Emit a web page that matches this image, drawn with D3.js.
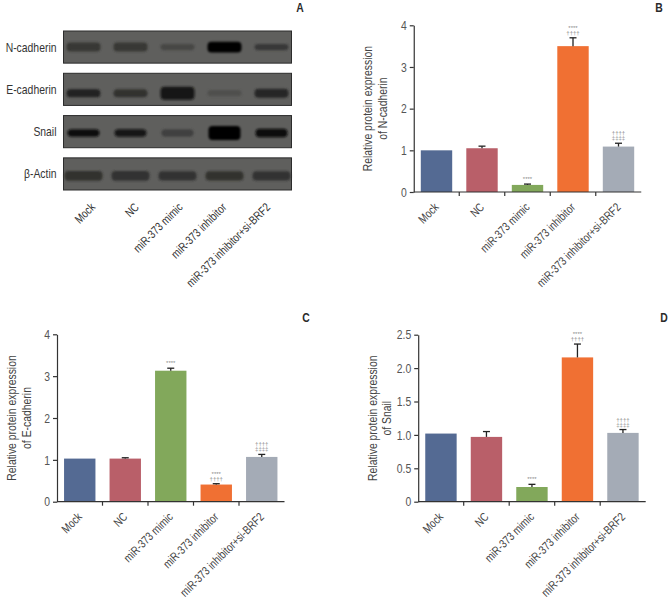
<!DOCTYPE html>
<html>
<head>
<meta charset="utf-8">
<script src="https://cdn.jsdelivr.net/npm/d3@7"></script>
<style>
  html, body { margin: 0; padding: 0; background: #fff; }
  text { font-family: "Liberation Sans", sans-serif; }
</style>
</head>
<body>
<svg id="chart" width="670" height="598"></svg>
<script>
const groups = ["Mock", "NC", "miR-373 mimic", "miR-373 inhibitor", "miR-373 inhibitor+si-BRF2"];
const barColors = ["#546a93", "#b95f69", "#82a85b", "#f07033", "#a4abb6"];

const nCadherin = [1.0, 1.05, 0.17, 3.5, 1.09];
const nCadherinErr = [0, 0.05, 0.02, 0.2, 0.08];
const eCadherin = [1.03, 1.03, 3.13, 0.41, 1.07];
const eCadherinErr = [0, 0.02, 0.06, 0.02, 0.06];
const snail = [1.02, 0.97, 0.22, 2.16, 1.03];
const snailErr = [0, 0.08, 0.04, 0.2, 0.05];

const sigMarks = [[], [], ["****"], ["****", "††††"], ["††††", "‡‡‡‡"]];
const eSigMarks = [[], [], ["****"], ["****", "††††"], ["††††", "‡‡‡‡"]];

// blot rows: band darkness and thickness per lane, 0-1
const blotRows = ["N-cadherin", "E-cadherin", "Snail", "β-Actin"];
const blotDark = [
  [0.42, 0.42, 0.25, 1.0, 0.4],
  [0.65, 0.5, 0.8, 0.15, 0.6],
  [0.85, 0.8, 0.3, 0.98, 0.85],
  [0.5, 0.48, 0.48, 0.5, 0.48]
];
const blotThick = [
  [0.55, 0.55, 0.3, 0.7, 0.3],
  [0.45, 0.45, 0.9, 0.3, 0.55],
  [0.4, 0.4, 0.4, 1.0, 0.5],
  [0.6, 0.6, 0.55, 0.55, 0.55]
];
const blotLaneWidth = [34, 34, 32, 38];
const blotBandCenter = [0.5, 0.62, 0.54, 0.56];

const textSqueeze = 0.8;

const svg = d3.select("#chart");
const defs = svg.append("defs");
defs.append("filter").attr("id", "soft")
  .attr("x", "-30%").attr("y", "-80%").attr("width", "160%").attr("height", "260%")
  .append("feGaussianBlur").attr("stdDeviation", 1.1);

function drawBars(cfg) {
  const x = d3.scaleBand().domain(groups).range([cfg.left, cfg.left + 227.5]).paddingInner(0.31).paddingOuter(0.155);
  const y = d3.scaleLinear().domain([0, cfg.max]).range([cfg.bottom, cfg.top]);
  const g = svg.append("g");

  g.selectAll("rect.bar").data(groups).enter().append("rect")
    .attr("class", "bar")
    .attr("x", d => x(d))
    .attr("y", (d, i) => y(cfg.values[i]))
    .attr("width", x.bandwidth())
    .attr("height", (d, i) => cfg.bottom - y(cfg.values[i]))
    .attr("fill", (d, i) => barColors[i]);

  // error bars
  const withErr = groups.map((d, i) => ({ d, v: cfg.values[i], e: cfg.errors[i] })).filter(o => o.e > 0);
  g.selectAll("line.err").data(withErr).enter().append("line")
    .attr("class", "err")
    .attr("x1", o => x(o.d) + x.bandwidth() / 2)
    .attr("x2", o => x(o.d) + x.bandwidth() / 2)
    .attr("y1", o => y(o.v))
    .attr("y2", o => y(o.v + o.e))
    .attr("stroke", "#222").attr("stroke-width", 1.3);
  g.selectAll("line.cap").data(withErr).enter().append("line")
    .attr("class", "cap")
    .attr("x1", o => x(o.d) + x.bandwidth() / 2 - 3.5)
    .attr("x2", o => x(o.d) + x.bandwidth() / 2 + 3.5)
    .attr("y1", o => y(o.v + o.e))
    .attr("y2", o => y(o.v + o.e))
    .attr("stroke", "#222").attr("stroke-width", 1.3);

  // significance marks above the caps
  groups.forEach((d, i) => {
    const marks = cfg.marks[i];
    const top = y(cfg.values[i] + cfg.errors[i]);
    marks.forEach((m, j) => {
      g.append("text")
        .attr("x", x(d) + x.bandwidth() / 2)
        .attr("y", top - 3 - (marks.length - 1 - j) * 5)
        .attr("text-anchor", "middle")
        .attr("font-size", 6)
        .attr("fill", "#8a8a8a")
        .text(m);
    });
  });

  // x axis: ticks sit between the bars
  const xAxisG = g.append("g").attr("transform", `translate(0,${cfg.bottom})`);
  xAxisG.append("line").attr("x1", cfg.left).attr("x2", cfg.left + 227.5).attr("stroke", "#333").attr("stroke-width", 1.2);
  xAxisG.selectAll("line.tick").data(groups.slice(1)).enter().append("line")
    .attr("class", "tick")
    .attr("x1", d => x(d) - x.step() * 0.155).attr("x2", d => x(d) - x.step() * 0.155)
    .attr("y1", 0).attr("y2", 4).attr("stroke", "#333").attr("stroke-width", 1.2);
  xAxisG.selectAll("text").data(groups).enter().append("text")
    .attr("transform", d => `translate(${x(d) + x.bandwidth() / 2},13) rotate(-45) scale(${textSqueeze},1)`)
    .attr("text-anchor", "end")
    .attr("dy", "0.35em")
    .attr("font-size", 12)
    .attr("fill", "#444")
    .text(d => d);

  // y axis
  const yAxis = d3.axisLeft(y).tickValues(cfg.ticks).tickFormat((d, i) => cfg.tickLabels[i]).tickSize(4).tickSizeOuter(0).tickPadding(3);
  const yG = g.append("g").attr("transform", `translate(${cfg.left},0)`).call(yAxis);
  yG.select(".domain").attr("stroke", "#333").attr("stroke-width", 1.2);
  yG.selectAll(".tick line").attr("stroke", "#333").attr("stroke-width", 1.2);
  yG.selectAll(".tick text")
    .attr("font-size", 13).attr("fill", "#555")
    .attr("x", -7 / textSqueeze)
    .attr("transform", `scale(${textSqueeze},1)`)
    .style("font-family", "'Liberation Sans', sans-serif");

  // y title
  const title = g.append("text")
    .attr("transform", `translate(${cfg.titleX},${(cfg.top + cfg.bottom) / 2}) rotate(-90) scale(${textSqueeze},1)`)
    .attr("text-anchor", "middle")
    .attr("font-size", 13)
    .attr("fill", "#444");
  title.append("tspan").attr("x", 0).text("Relative protein expression");
  title.append("tspan").attr("x", 0).attr("dy", 15).text(cfg.titleLine2);
}

drawBars({
  left: 413.75, top: 25.3, bottom: 192, max: 4,
  values: nCadherin, errors: nCadherinErr, marks: sigMarks,
  ticks: [0, 1, 2, 3, 4], tickLabels: ["0", "1", "2", "3", "4"],
  titleX: 372, titleLine2: "of N-cadherin"
});
drawBars({
  left: 57, top: 334.3, bottom: 501.7, max: 4,
  values: eCadherin, errors: eCadherinErr, marks: eSigMarks,
  ticks: [0, 1, 2, 3, 4], tickLabels: ["0", "1", "2", "3", "4"],
  titleX: 16, titleLine2: "of E-cadherin"
});
drawBars({
  left: 418.2, top: 334.7, bottom: 501.7, max: 2.5,
  values: snail, errors: snailErr, marks: sigMarks,
  ticks: [0, 0.5, 1, 1.5, 2, 2.5], tickLabels: ["0", "0.5", "1.0", "1.5", "2.0", "2.5"],
  titleX: 376.5, titleLine2: "of Snail"
});

// blot panel
const lane = d3.scaleBand().domain(groups).range([60, 295]);
const labelLane = d3.scaleBand().domain(groups).range([71, 290]);
const rowY = d3.scaleBand().domain(blotRows).range([31, 190]).paddingInner(0.24);
const bandHeight = d3.scaleLinear().domain([0, 1]).range([3, 14]);
const bandShade = d3.scaleLinear().domain([0, 1]).range(["#5c5c5a", "#030303"]);

blotRows.forEach((row, r) => {
  const g = svg.append("g");
  g.append("rect")
    .attr("x", 63.5).attr("y", rowY(row))
    .attr("width", 228).attr("height", rowY.bandwidth())
    .attr("fill", "#5f5f5d").attr("stroke", "#2c2c2c").attr("stroke-width", 1);
  g.selectAll("rect.band").data(groups).enter().append("rect")
    .attr("class", "band")
    .attr("x", d => lane(d) + lane.bandwidth() / 2 - blotLaneWidth[r] / 2)
    .attr("y", (d, i) => rowY(row) + rowY.bandwidth() * blotBandCenter[r] - bandHeight(blotThick[r][i]) / 2)
    .attr("width", blotLaneWidth[r])
    .attr("height", (d, i) => bandHeight(blotThick[r][i]))
    .attr("rx", 4)
    .attr("fill", (d, i) => bandShade(blotDark[r][i]))
    .attr("filter", "url(#soft)");
  svg.append("text")
    .attr("transform", `translate(56.5,${rowY(row) + rowY.bandwidth() / 2}) scale(${textSqueeze},1)`)
    .attr("dy", "0.35em").attr("text-anchor", "end")
    .attr("font-size", 13).attr("fill", "#333")
    .text(row);
});

svg.append("g").selectAll("text").data(groups).enter().append("text")
  .attr("transform", d => `translate(${labelLane(d) + labelLane.bandwidth() / 2},205) rotate(-45) scale(${textSqueeze},1)`)
  .attr("text-anchor", "end")
  .attr("dy", "0.35em")
  .attr("font-size", 12)
  .attr("fill", "#333")
  .text(d => d);

// panel letters
const panelLetters = ["A", "B", "C", "D"];
const letterX = d3.scaleOrdinal().domain(panelLetters).range([300, 659, 306, 664]);
const letterY = d3.scaleOrdinal().domain(panelLetters).range([7, 7, 317, 317]);
svg.append("g").selectAll("text").data(panelLetters).enter().append("text")
  .attr("transform", d => `translate(${letterX(d)},${letterY(d)}) scale(${textSqueeze},1)`)
  .attr("dy", "0.35em").attr("text-anchor", "middle")
  .attr("font-size", 13).attr("font-weight", "bold").attr("fill", "#2a2a2a")
  .text(d => d);
</script>
</body>
</html>
